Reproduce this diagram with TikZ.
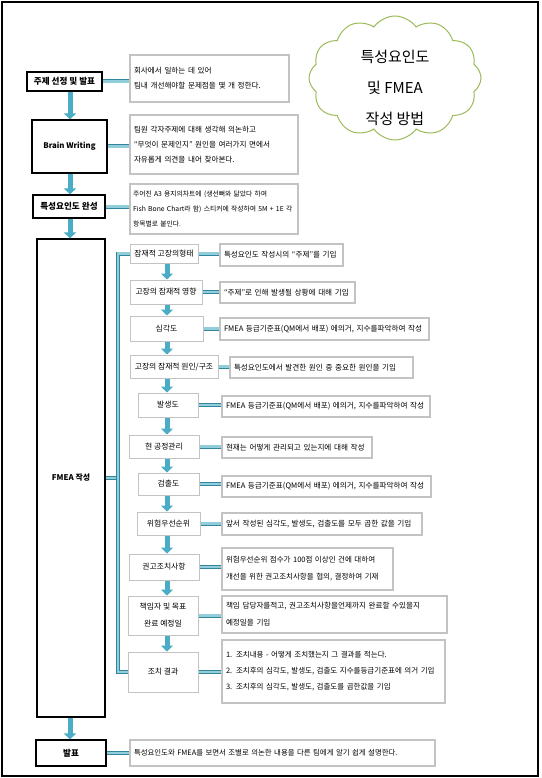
\documentclass[tikz,border=0pt]{standalone}
\usepackage{fontspec}
\setmainfont{Noto Sans CJK KR}
\usetikzlibrary{arrows.meta,shapes.symbols,calc}
\definecolor{cyanL}{RGB}{146,205,220}
\definecolor{cyanD}{RGB}{49,133,156}
\definecolor{arrowC}{RGB}{75,172,198}
\definecolor{cloudG}{RGB}{155,187,89}
\definecolor{boxgray}{RGB}{195,195,195}
\begin{document}
\begin{tikzpicture}[x=1pt,y=-1pt,
  mainbox/.style={draw=black, line width=1.2pt, fill=white, inner sep=0pt, align=center, font=\fontsize{8.6}{10}\selectfont\bfseries},
  subbox/.style={draw=boxgray, line width=1pt, fill=white, inner sep=0pt, align=center, font=\fontsize{7.8}{17}\selectfont},
  notebox/.style={draw=boxgray, line width=1.2pt, fill=white, inner xsep=4pt, inner ysep=0pt, align=left, font=\fontsize{7.6}{15}\selectfont},
  conn/.style={draw=cyanD, line width=0.7pt, double=cyanL, double distance=2.6pt, line join=miter},
  flowarrow/.style={draw=arrowC, line width=5pt, -{Triangle[width=12pt,length=6pt]}},
]
\useasboundingbox (0,0) rectangle (541,778);
\draw[line width=1.2pt] (2,2) rectangle (538,776);

% cloud
\node[cloud, cloud puffs=12, cloud puff arc=110, aspect=1.4, draw=cloudG, line width=1pt, minimum width=172pt, minimum height=124pt, inner sep=0pt] (cloud) at (395,78) {};
\node[font=\fontsize{15}{31}\selectfont, align=center] (ctext) at (395,88) {특성요인도\\및 FMEA\\작성 방법};

% helper coordinates
\coordinate (ax) at (70,0);
\coordinate (sx) at (167,0);
\coordinate (bx) at (118,0);

% main boxes
\node[mainbox, minimum width=75pt, minimum height=19pt] (m1) at (64.5,81.5) {주제 선정 및 발표};
\node[mainbox, minimum width=75pt, minimum height=53pt, font=\fontsize{7.8}{9}\selectfont\bfseries] (m2) at (69.5,146.5) {Brain Writing};
\node[mainbox, minimum width=72pt, minimum height=23pt] (m3) at (69,206.5) {특성요인도 완성};
\node[mainbox, minimum width=68pt, minimum height=478pt, font=\fontsize{7.9}{9}\selectfont\bfseries] (m4) at (71,478) {FMEA 작성};
\node[mainbox, minimum width=70pt, minimum height=26pt] (m5) at (71,753) {발표};

% notes for main boxes
\node[notebox, text width=151pt, minimum height=47pt] (n1) at (209.5,78.5) {회사에서 일하는 데 있어\\팀내 개선해야할 문제점을 몇 개 정한다.};
\node[notebox, text width=160pt, minimum height=59pt] (n2) at (214,144.5) {팀원 각자주제에 대해 생각해 의논하고\\“무엇이 문제인지” 원인을 여러가지 면에서\\자유롭게 의견을 내어 찾아본다.};
\node[notebox, text width=162pt, inner xsep=3pt, minimum height=50pt, font=\fontsize{6.8}{15}\selectfont] (n3) at (214,209) {주어진 A3 용지의차트에 (생선뼈와 닮았다 하여\\Fish Bone Chart라 함) 스티커에 작성하여 5M + 1E 각\\항목별로 붙인다.};
\node[notebox, text width=297pt, minimum height=26pt, font=\fontsize{7.4}{15}\selectfont] (n5) at (282.5,753) {특성요인도와 FMEA를 보면서 조별로 의논한 내용을 다른 팀에게 알기 쉽게 설명한다.};

% sub boxes
\node[subbox, minimum width=68pt, minimum height=19pt] (s1) at (164,253.5) {잠재적 고장의형태};
\node[subbox, minimum width=72pt, minimum height=24pt] (s2) at (166,292) {고장의 잠재적 영향};
\node[subbox, minimum width=73pt, minimum height=25pt] (s3) at (166.5,328.5) {심각도};
\node[subbox, minimum width=88pt, minimum height=23pt] (s4) at (174,366.5) {고장의 잠재적 원인/구조};
\node[subbox, minimum width=60pt, minimum height=24pt] (s5) at (168,405) {발생도};
\node[subbox, minimum width=70pt, minimum height=23pt] (s6) at (164,446.5) {현 공정관리};
\node[subbox, minimum width=61pt, minimum height=22pt] (s7) at (168.5,484) {검출도};
\node[subbox, minimum width=63pt, minimum height=23pt] (s8) at (168.5,523.5) {위험우선순위};
\node[subbox, minimum width=70pt, minimum height=26pt] (s9) at (164,567) {권고조치사항};
\node[subbox, minimum width=70pt, minimum height=39pt] (s10) at (163,615.5) {책임자 및 목표\\완료 예정일};
\node[subbox, minimum width=70pt, minimum height=40pt] (s11) at (163,672) {조치 결과};

% notes for sub boxes
\node[notebox, text width=115pt, minimum height=22pt] (t1) at (281.5,255) {특성요인도 작성시의 “주제”를 기입};
\node[notebox, text width=127pt, minimum height=21pt] (t2) at (287.5,292.5) {“주제”로 인해 발생될 상황에 대해 기입};
\node[notebox, text width=201pt, minimum height=22pt] (t3) at (324.5,329) {FMEA 등급기준표(QM에서 배포) 에의거, 지수를파악하여 작성};
\node[notebox, text width=175pt, minimum height=21pt] (t4) at (321.5,367.5) {특성요인도에서 발견한 원인 중 중요한 원인을 기입};
\node[notebox, text width=200pt, minimum height=21pt] (t5) at (326,406.5) {FMEA 등급기준표(QM에서 배포) 에의거, 지수를파악하여 작성};
\node[notebox, text width=142pt, minimum height=21pt] (t6) at (297,447.5) {현재는 어떻게 관리되고 있는지에 대해 작성};
\node[notebox, text width=201pt, minimum height=21pt] (t7) at (326.5,486.5) {FMEA 등급기준표(QM에서 배포) 에의거, 지수를파악하여 작성};
\node[notebox, text width=192pt, minimum height=22pt] (t8) at (322,524) {앞서 작성된 심각도, 발생도, 검출도를 모두 곱한 값을 기입};
\node[notebox, text width=163pt, minimum height=42pt, font=\fontsize{7.5}{17}\selectfont] (t9) at (307.5,569) {위험우선순위 점수가 100점 이상인 건에 대하여\\개선을 위한 권고조치사항을 협의, 결정하여 기재};
\node[notebox, text width=217pt, minimum height=37pt, font=\fontsize{7.6}{17}\selectfont] (t10) at (334.5,614.5) {책임 담당자를적고, 권고조치사항을언제까지 완료할 수있을지\\예정일을 기입};
\node[notebox, text width=215pt, minimum height=63pt, font=\fontsize{7.5}{16}\selectfont] (t11) at (333.5,671.5) {1. 조치내용 - 어떻게 조치했는지 그 결과를 적는다.\\2. 조치후의 심각도, 발생도, 검출도 지수를등급기준표에 의거 기입\\3. 조치후의 심각도, 발생도, 검출도를 곱한값을 기입};

% main flow arrows
\draw[flowarrow] (m1.south -| ax) -- (m2.north -| ax);
\draw[flowarrow] (m2.south -| ax) -- (m3.north -| ax);
\draw[flowarrow] (m3.south -| ax) -- (m4.north -| ax);
\draw[flowarrow] (m4.south -| ax) -- (m5.north -| ax);

% sub flow arrows
\foreach \a/\b in {s1/s2,s2/s3,s3/s4,s4/s5,s5/s6,s6/s7,s7/s8,s8/s9,s9/s10,s10/s11}
  \draw[flowarrow] (\a.south -| sx) -- (\b.north -| sx);

% connectors main -> notes
\draw[conn] (m1.east) -- (m1.east -| n1.west);
\draw[conn] (m2.east) -- (m2.east -| n2.west);
\draw[conn] (m3.east) -- (m3.east -| n3.west);
\draw[conn] (m5.east) -- (m5.east -| n5.west);

% connectors sub -> notes
\foreach \i in {1,...,11}
  \draw[conn] (s\i.east) -- (s\i.east -| t\i.west);

% bracket
\draw[conn] (m4.east) -- (m4.east -| bx);
\draw[conn] (s1.west) -- (s1.west -| bx) -- (s11.west -| bx) -- (s11.west);
\end{tikzpicture}
\end{document}
